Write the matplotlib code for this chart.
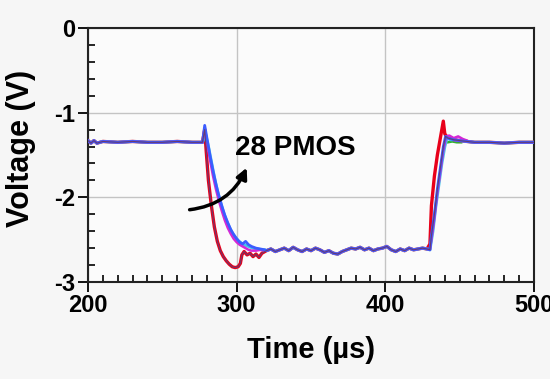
import matplotlib
matplotlib.use("Agg")
import matplotlib.pyplot as plt
from matplotlib.patches import FancyArrowPatch
from matplotlib.ticker import MultipleLocator

plt.rcParams['font.family'] = ['Liberation Sans', 'DejaVu Sans']
plt.rcParams['axes.unicode_minus'] = False

# ---------------- data ----------------
t_pre = [200, 202, 204, 206, 210, 220, 230, 240, 250, 260, 270, 277]
v_pre = [-1.33, -1.36, -1.33, -1.36, -1.34, -1.35, -1.34, -1.35, -1.35, -1.34, -1.35, -1.35]

t_plateau = [320, 323, 326, 329, 332, 335, 338, 341, 344, 347, 350, 353, 356, 359,
             362, 365, 368, 371, 374, 377, 380, 383, 386, 389, 392, 395, 398, 401,
             404, 407, 410, 413, 416, 419, 422, 425, 428]
v_plateau = [-2.63, -2.61, -2.64, -2.62, -2.60, -2.63, -2.59, -2.62, -2.64, -2.61,
             -2.63, -2.60, -2.62, -2.65, -2.63, -2.66, -2.67, -2.64, -2.62, -2.60,
             -2.61, -2.59, -2.62, -2.60, -2.63, -2.61, -2.60, -2.58, -2.62, -2.64,
             -2.61, -2.63, -2.60, -2.62, -2.61, -2.60, -2.61]

t_post = [446, 450, 455, 460, 470, 480, 490, 500]
v_post = [-1.32, -1.33, -1.34, -1.35, -1.35, -1.36, -1.35, -1.35]

# red (fast) trace
t_red_fall = [277, 278.5, 279.5, 281, 283, 285, 287, 289, 291, 293, 295, 297, 299,
              301, 302.5, 303.5, 305, 307, 309, 311, 313, 315, 317, 319]
v_red_fall = [-1.35, -1.2, -1.45, -1.8, -2.1, -2.35, -2.52, -2.63, -2.7, -2.75,
              -2.79, -2.82, -2.83, -2.82, -2.78, -2.68, -2.64, -2.68, -2.66, -2.70,
              -2.67, -2.71, -2.66, -2.64]
t_red_rise = [430, 431, 433, 435, 437, 439, 440, 442, 444]
v_red_rise = [-2.55, -2.1, -1.75, -1.5, -1.3, -1.1, -1.25, -1.3, -1.31]

# blue trace
t_blue_fall = [277, 278.5, 280, 282, 284, 286, 288, 290, 292, 294, 296, 298, 300,
               302, 304, 306, 308, 310, 313, 316, 319]
v_blue_fall = [-1.35, -1.15, -1.3, -1.5, -1.68, -1.84, -1.98, -2.1, -2.21, -2.3,
               -2.38, -2.44, -2.49, -2.53, -2.55, -2.52, -2.56, -2.58, -2.6, -2.61, -2.62]
t_blue_rise = [430, 431, 433, 435, 437, 439, 440.5, 442, 444]
v_blue_rise = [-2.62, -2.45, -2.2, -1.9, -1.65, -1.4, -1.28, -1.3, -1.31]

# magenta trace
t_mag_fall = [277, 278.5, 280, 282, 284, 286, 288, 290, 292, 294, 296, 298, 300,
              302, 304, 306, 308, 310, 313, 316, 319]
v_mag_fall = [-1.35, -1.18, -1.35, -1.55, -1.74, -1.9, -2.04, -2.16, -2.27, -2.36,
              -2.43, -2.49, -2.53, -2.56, -2.58, -2.6, -2.62, -2.63, -2.63, -2.62, -2.63]
t_mag_rise = [430, 431, 433, 435, 437, 439, 441, 443, 446, 449, 452, 455]
v_mag_rise = [-2.62, -2.5, -2.25, -1.95, -1.7, -1.45, -1.28, -1.27, -1.3, -1.28, -1.31, -1.33]

# cyan trace
t_cyan_fall = [277, 279, 281, 283, 285, 287, 289, 291, 293, 295, 297, 299, 301, 303,
               305, 308, 311, 314, 317, 319]
v_cyan_fall = [-1.35, -1.25, -1.4, -1.58, -1.76, -1.92, -2.05, -2.17, -2.27, -2.35,
               -2.42, -2.47, -2.51, -2.54, -2.56, -2.58, -2.6, -2.61, -2.62, -2.62]
t_cyan_rise = [430, 432, 434, 436, 438, 440, 441.5, 444]
v_cyan_rise = [-2.62, -2.4, -2.1, -1.85, -1.6, -1.4, -1.3, -1.32]

# green short segment after rise
t_green = [440, 442, 445, 448, 451]
v_green = [-1.35, -1.35, -1.34, -1.35, -1.35]

traces = [
    ("red", "#e8001a", 2.4, t_red_fall, v_red_fall, t_red_rise, v_red_rise),
    ("cyan", "#45c8e8", 2.2, t_cyan_fall, v_cyan_fall, t_cyan_rise, v_cyan_rise),
    ("magenta", "#d428d4", 1.8, t_mag_fall, v_mag_fall, t_mag_rise, v_mag_rise),
    ("blue", "#3c5cff", 2.0, t_blue_fall, v_blue_fall, t_blue_rise, v_blue_rise),
]

# ---------------- figure ----------------
fig = plt.figure(figsize=(5.5, 3.79), dpi=100, facecolor="#f6f6f6")
ax = fig.add_axes([88/550, 1 - 282/379, (534-88)/550, (282-28)/379])
ax.set_facecolor("#fbfbfb")

for name, col, lw, tf, vf, tr, vr in traces:
    t_all = t_pre + tf + t_plateau + tr + t_post
    v_all = v_pre + vf + v_plateau + vr + v_post
    ax.plot(t_all, v_all, color=col, lw=lw, solid_joinstyle="round", zorder=3)

# thin dark overlay trace
t_dark = t_pre + t_red_fall + t_plateau + t_blue_rise + t_post
v_dark = v_pre + v_red_fall + v_plateau + v_blue_rise + v_post
ax.plot(t_dark, v_dark, color="#6a3a70", lw=0.8, zorder=4)
ax.plot(t_green, v_green, color="#30b030", lw=1.8, zorder=2)

ax.set_xlim(200, 500)
ax.set_ylim(-3, 0)
ax.xaxis.set_major_locator(MultipleLocator(100))
ax.xaxis.set_minor_locator(MultipleLocator(10))
ax.yaxis.set_major_locator(MultipleLocator(1))
ax.yaxis.set_minor_locator(MultipleLocator(0.2))
ax.grid(True, which="major", color="#c4c4c4", lw=1.0, zorder=0)
ax.set_axisbelow(True)

ax.tick_params(which="major", direction="out", length=7, width=1.3,
               labelsize=17, pad=2)
ax.tick_params(which="minor", direction="in", length=5, width=1.2)
for lab in ax.get_xticklabels() + ax.get_yticklabels():
    lab.set_fontweight("bold")
for s in ax.spines.values():
    s.set_linewidth(1.5)
    s.set_color("#222222")

ax.set_xlabel("Time (µs)", fontsize=21, fontweight="bold")
ax.set_ylabel("Voltage (V)", fontsize=22, fontweight="bold")
ax.xaxis.set_label_coords(0.5, -0.212)
ax.yaxis.set_label_coords(-0.117, 0.524)

ax.text(299, -1.42, "28 PMOS", fontsize=20, fontweight="bold", va="center",
        ha="left", zorder=6)
arrow = FancyArrowPatch((266.5, -2.15), (307.5, -1.62),
                        connectionstyle="arc3,rad=0.3", arrowstyle="-|>",
                        mutation_scale=16, lw=2.5, color="black", zorder=6)
ax.add_patch(arrow)

fig.savefig("out.png", dpi=100, facecolor=fig.get_facecolor())
